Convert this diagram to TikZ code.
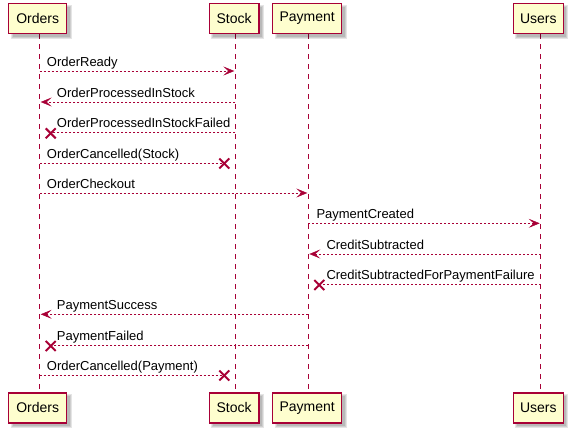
\documentclass[tikz,border=0pt]{standalone}
\usepackage{fontspec}
\setmainfont{Liberation Sans}
\usetikzlibrary{arrows.meta}
\definecolor{pborder}{HTML}{A80036}
\definecolor{pfill}{HTML}{FEFECE}
\tikzset{
  pbox/.style={draw=pborder, line width=1.5pt, fill=pfill, minimum height=30pt, inner sep=0pt,
    font=\fontsize{14}{16}\selectfont},
  lifeline/.style={draw=pborder, line width=1pt, dash pattern=on 5pt off 5pt},
  msg/.style={draw=pborder, line width=1pt, dash pattern=on 2pt off 2pt},
  arr/.style={msg, -{Stealth[length=11pt,width=9pt,inset=5pt,fill=pborder,line width=0.5pt]}},
  lbl/.style={anchor=base west, inner sep=0pt, font=\fontsize{13}{15}\selectfont},
  xmark/.style={draw=pborder, line width=2pt},
}
\newcommand{\pshadow}[4]{% x1 y1 x2 y2
  \fill[black, opacity=0.10] (#1+2,#2+2) rectangle (#3+5,#4+5);
  \fill[black, opacity=0.10] (#1+3,#2+3) rectangle (#3+4,#4+4);
  \fill[black, opacity=0.10] (#1+4,#2+4) rectangle (#3+3,#4+3);
}
\newcommand{\xcross}[2]{%
  \draw[xmark] (#1-5,#2-5) -- (#1+5,#2+5);
  \draw[xmark] (#1-5,#2+5) -- (#1+5,#2-5);
}
\begin{document}
\begin{tikzpicture}[x=1pt,y=-1pt]
\useasboundingbox (0,0) rectangle (573,434);
\def\xO{39.7}\def\xS{235.3}\def\xP{308.3}\def\xU{540.7}
% lifelines
\coordinate (oT) at (\xO,34); \coordinate (oB) at (\xO,392);
\coordinate (sT) at (\xS,34); \coordinate (sB) at (\xS,392);
\coordinate (pT) at (\xP,34); \coordinate (pB) at (\xP,392);
\coordinate (uT) at (\xU,34); \coordinate (uB) at (\xU,392);
\draw[lifeline] (oT) -- (oB);
\draw[lifeline] (sT) -- (sB);
\draw[lifeline] (pT) -- (pB);
\draw[lifeline] (uT) -- (uB);
% shadows
\pshadow{8.7}{3.3}{66.7}{33.5}
\pshadow{209.3}{3.3}{259}{33.5}
\pshadow{272.7}{3.3}{341.7}{33.5}
\pshadow{513.3}{3.3}{563.3}{33.5}
\pshadow{8.7}{392.3}{66.7}{423.3}
\pshadow{209.3}{392.3}{259}{423.3}
\pshadow{272.7}{392.3}{341.7}{423.3}
\pshadow{513.3}{392.3}{563.3}{423.3}
% participant boxes
\node[pbox, minimum width=58pt] (ordT) at (37.7,18.4) {Orders};
\node[pbox, minimum width=49.7pt] (stoT) at (234.15,18.4) {Stock};
\node[pbox, minimum width=69pt] (payT) at (307.2,18.4) {Payment};
\node[pbox, minimum width=50pt] (useT) at (538.3,18.4) {Users};
\node[pbox, minimum width=58pt] (ordB) at (37.7,407.8) {Orders};
\node[pbox, minimum width=49.7pt] (stoB) at (234.15,407.8) {Stock};
\node[pbox, minimum width=69pt] (payB) at (307.2,407.8) {Payment};
\node[pbox, minimum width=50pt] (useB) at (538.3,407.8) {Users};
% messages
\coordinate (m1a) at (\xO,71); \coordinate (m1b) at (\xS-1,71);
\draw[arr] (m1a) -- (m1b);
\node[lbl] (l1) at (\xO+7,66) {OrderReady};

\coordinate (m2a) at (\xS,102); \coordinate (m2b) at (\xO+1,102);
\draw[arr] (m2a) -- (m2b);
\node[lbl] (l2) at (\xO+17,97) {OrderProcessedInStock};

\coordinate (m3a) at (\xS,132.3); \coordinate (m3b) at (\xO+11,132.3);
\draw[msg] (m3a) -- (m3b);
\xcross{\xO+11}{133.3}
\node[lbl] (l3) at (\xO+17,127.3) {OrderProcessedInStockFailed};

\coordinate (m4a) at (\xO,163.3); \coordinate (m4b) at (\xS-11,163.3);
\draw[msg] (m4a) -- (m4b);
\xcross{\xS-11}{163.5}
\node[lbl] (l4) at (\xO+7,158.3) {OrderCancelled(Stock)};

\coordinate (m5a) at (\xO,193); \coordinate (m5b) at (\xP-1,193);
\draw[arr] (m5a) -- (m5b);
\node[lbl] (l5) at (\xO+7,188) {OrderCheckout};

\coordinate (m6a) at (\xP,223.3); \coordinate (m6b) at (\xU-1,223.3);
\draw[arr] (m6a) -- (m6b);
\node[lbl] (l6) at (\xP+8,218.3) {PaymentCreated};

\coordinate (m7a) at (\xU,254); \coordinate (m7b) at (\xP+1,254);
\draw[arr] (m7a) -- (m7b);
\node[lbl] (l7) at (\xP+18,249) {CreditSubtracted};

\coordinate (m8a) at (\xU,284); \coordinate (m8b) at (\xP+11,284);
\draw[msg] (m8a) -- (m8b);
\xcross{\xP+11}{285}
\node[lbl] (l8) at (\xP+18,279) {CreditSubtractedForPaymentFailure};

\coordinate (m9a) at (\xP,314.3); \coordinate (m9b) at (\xO+1,314.3);
\draw[arr] (m9a) -- (m9b);
\node[lbl] (l9) at (\xO+17,309.3) {PaymentSuccess};

\coordinate (m10a) at (\xP,345); \coordinate (m10b) at (\xO+11,345);
\draw[msg] (m10a) -- (m10b);
\xcross{\xO+11}{346}
\node[lbl] (l10) at (\xO+17,340) {PaymentFailed};

\coordinate (m11a) at (\xO,375); \coordinate (m11b) at (\xS-11,375);
\draw[msg] (m11a) -- (m11b);
\xcross{\xS-11}{375.5}
\node[lbl] (l11) at (\xO+7,370) {OrderCancelled(Payment)};
\end{tikzpicture}
\end{document}
